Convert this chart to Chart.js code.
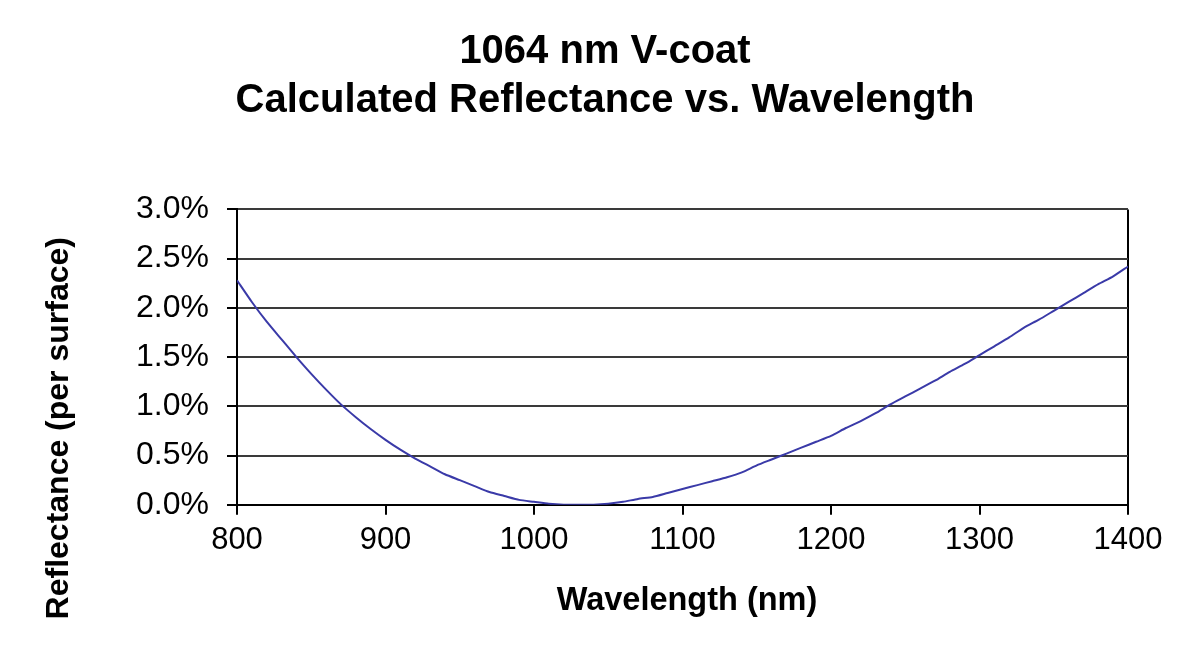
<!DOCTYPE html>
<html>
<head>
<meta charset="utf-8">
<script src="https://cdn.jsdelivr.net/npm/chart.js@4.4.0/dist/chart.umd.min.js"></script>
<style>
  html, body { margin: 0; padding: 0; background: #ffffff; }
  #c { display: block; }
</style>
</head>
<body>
<canvas id="c" width="1200" height="667"></canvas>
<script>
// Wavelength samples (nm)
const wavelengths = [
  800, 810, 820, 830, 840, 850, 860, 870, 880, 890,
  900, 910, 920, 930, 940, 950, 960, 970, 980, 990,
  1000, 1010, 1020, 1030, 1040, 1050, 1060, 1070, 1080, 1090,
  1100, 1110, 1120, 1130, 1140, 1150, 1160, 1170, 1180, 1190,
  1200, 1210, 1220, 1230, 1240, 1250, 1260, 1270, 1280, 1290,
  1300, 1310, 1320, 1330, 1340, 1350, 1360, 1370, 1380, 1390,
  1400
];
// Reflectance per surface (%)
const reflectance = [
  2.28, 2.06, 1.86, 1.68, 1.50, 1.33, 1.17, 1.02, 0.89, 0.77,
  0.66, 0.56, 0.47, 0.39, 0.31, 0.25, 0.19, 0.13, 0.09, 0.05,
  0.03, 0.01, 0.00, 0.00, 0.00, 0.01, 0.03, 0.06, 0.08, 0.12,
  0.16, 0.20, 0.24, 0.28, 0.33, 0.40, 0.46, 0.52, 0.58, 0.64,
  0.70, 0.78, 0.85, 0.93, 1.02, 1.10, 1.18, 1.26, 1.35, 1.43,
  1.52, 1.61, 1.70, 1.80, 1.88, 1.97, 2.06, 2.15, 2.24, 2.32,
  2.42
];
const xTicks = [800, 900, 1000, 1100, 1200, 1300, 1400];
const yTicks = [0.0, 0.5, 1.0, 1.5, 2.0, 2.5, 3.0];
const titleLines = ['1064 nm V-coat', 'Calculated Reflectance vs. Wavelength'];
const xTitle = 'Wavelength (nm)';
const yTitle = 'Reflectance (per surface)';

const FONT = "'Liberation Sans', Arial, Helvetica, sans-serif";
const points = wavelengths.map((w, i) => ({ x: w, y: reflectance[i] }));
const xMin = xTicks[0], xMax = xTicks[xTicks.length - 1];
const yMin = yTicks[0], yMax = yTicks[yTicks.length - 1];
// the reference's axis titles sit off-centre; pad with spaces to reproduce that
const yTitleShifted = yTitle + ' '.repeat(16);
const xTitleShifted = ' ' + xTitle;

new Chart(document.getElementById('c'), {
  type: 'line',
  data: {
    datasets: [{
      data: points,
      borderColor: '#3a3aa8',
      borderWidth: 2,
      pointRadius: 0,
      tension: 0.2,
      fill: false
    }]
  },
  options: {
    responsive: false,
    animation: false,
    layout: { padding: { top: 27, right: 72, bottom: 46, left: 82 } },
    plugins: {
      legend: { display: false },
      tooltip: { enabled: false },
      title: {
        display: true,
        text: titleLines,
        color: '#000',
        font: { family: FONT, size: 40, weight: 'bold', lineHeight: 1.23 },
        padding: { top: 0, bottom: 84 }
      }
    },
    scales: {
      x: {
        type: 'linear',
        min: xMin,
        max: xMax,
        afterBuildTicks: (s) => { s.ticks = xTicks.map(v => ({ value: v })); },
        ticks: {
          color: '#000',
          padding: 7,
          maxRotation: 0,
          font: { family: FONT, size: 31 },
          callback: (v) => String(v)
        },
        grid: {
          drawOnChartArea: true,
          color: (ctx) => (ctx.tick && ctx.tick.value === xMax) ? '#000' : 'rgba(0,0,0,0)',
          tickColor: '#000',
          lineWidth: 2,
          tickLength: 10
        },
        border: { display: true, color: '#000', width: 2 },
        title: {
          display: true,
          text: xTitleShifted,
          color: '#000',
          font: { family: FONT, size: 32.5, weight: 'bold', lineHeight: 1.2 },
          padding: { top: 16, bottom: 0 }
        }
      },
      y: {
        type: 'linear',
        min: yMin,
        max: yMax,
        afterBuildTicks: (s) => { s.ticks = yTicks.map(v => ({ value: v })); },
        afterFit: (s) => { s.width = 155; },
        ticks: {
          color: '#000',
          padding: 18,
          font: { family: FONT, size: 32 },
          callback: (v) => Number(v).toFixed(1) + '%'
        },
        grid: {
          color: '#3a3a3a',
          tickColor: '#000',
          lineWidth: 2,
          tickLength: 10
        },
        border: { display: true, color: '#000', width: 2 },
        title: {
          display: true,
          text: yTitleShifted,
          color: '#000',
          font: { family: FONT, size: 32, weight: 'bold', lineHeight: 1.2 },
          padding: { top: -42, bottom: 0 }
        }
      }
    }
  }
});
</script>
</body>
</html>
